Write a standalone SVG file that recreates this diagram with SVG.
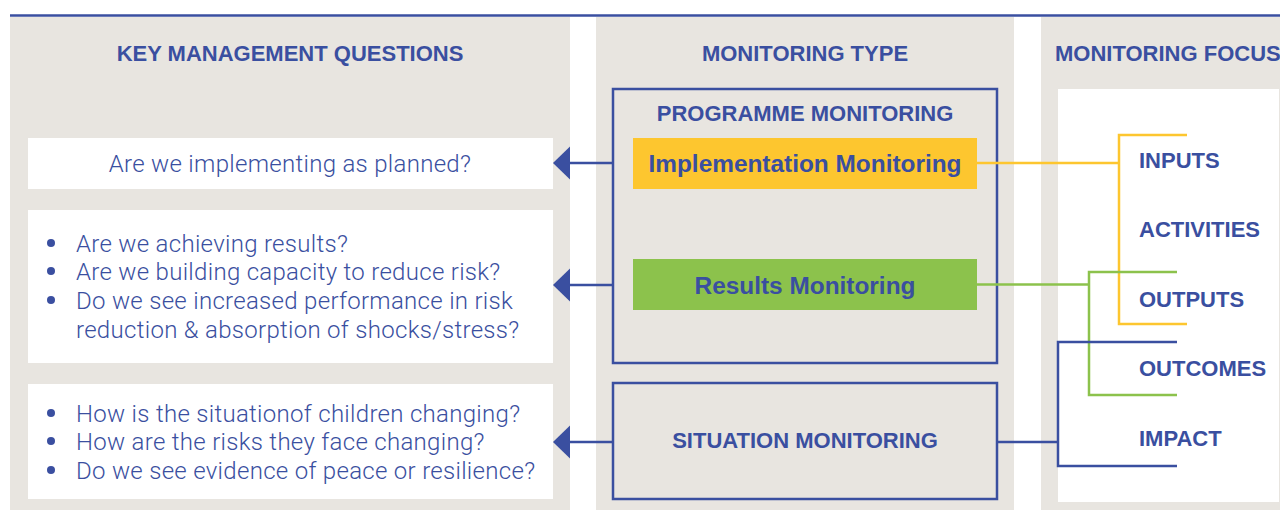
<svg xmlns="http://www.w3.org/2000/svg" width="1280" height="510" viewBox="0 0 1280 510">
  <defs>
    <style>
      .col { fill: #e8e5e0; }
      .wbox { fill: #ffffff; }
      .hdr { font-family: "Liberation Sans", Arial, sans-serif; font-weight: bold; font-size: 22px; fill: #3a4fa0; }
      .big { font-family: "Liberation Sans", Arial, sans-serif; font-weight: bold; font-size: 24.4px; fill: #3a4fa0; }
      .q { font-family: Roboto, "Liberation Sans", Arial, sans-serif; font-weight: 300; font-size: 24px; letter-spacing: 0.3px; fill: #3a4fa0; }
      .frame { fill: none; stroke: #3a4fa0; stroke-width: 2.5; }
      .blue { fill: none; stroke: #3a4fa0; stroke-width: 2.5; }
      .yel { fill: none; stroke: #fdc62f; stroke-width: 2.5; }
      .grn { fill: none; stroke: #8cc24c; stroke-width: 2.5; }
      .tip { fill: #3a4fa0; }
      .dot { fill: #3a4fa0; }
    </style>
  </defs>

  <rect x="0" y="0" width="1280" height="510" fill="#ffffff"/>

  <!-- background columns -->
  <g id="backgrounds">
    <rect class="col" x="10" y="17" width="560" height="493"/>
    <rect class="col" x="596" y="17" width="418" height="493"/>
    <rect class="col" x="1041" y="17" width="239" height="493"/>
    <rect class="wbox" x="1058" y="89" width="221" height="413"/>
    <line x1="10" y1="15.5" x2="1280" y2="15.5" stroke="#3a4fa0" stroke-width="2.5"/>
  </g>

  <!-- column headers -->
  <g id="headers">
    <text class="hdr" x="290" y="61" text-anchor="middle">KEY MANAGEMENT QUESTIONS</text>
    <text class="hdr" x="805" y="61" text-anchor="middle">MONITORING TYPE</text>
    <text class="hdr" x="1055" y="61">MONITORING FOCUS</text>
  </g>

  <!-- question boxes -->
  <g id="q-implementation">
    <rect class="wbox" x="28" y="138" width="525" height="51"/>
    <text class="q" x="290" y="172" text-anchor="middle">Are we implementing as planned?</text>
  </g>

  <g id="q-results">
    <rect class="wbox" x="28" y="210" width="525" height="153"/>
    <circle class="dot" cx="51" cy="243" r="4"/>
    <circle class="dot" cx="51" cy="271" r="4"/>
    <circle class="dot" cx="51" cy="300" r="4"/>
    <text class="q" x="76" y="252">Are we achieving results?</text>
    <text class="q" x="76" y="280">Are we building capacity to reduce risk?</text>
    <text class="q" x="76" y="309">Do we see increased performance in risk</text>
    <text class="q" x="76" y="338">reduction &amp; absorption of shocks/stress?</text>
  </g>

  <g id="q-situation">
    <rect class="wbox" x="28" y="384" width="525" height="115"/>
    <circle class="dot" cx="51" cy="413" r="4"/>
    <circle class="dot" cx="51" cy="441" r="4"/>
    <circle class="dot" cx="51" cy="470" r="4"/>
    <text class="q" x="76" y="422">How is the situationof children changing?</text>
    <text class="q" x="76" y="450">How are the risks they face changing?</text>
    <text class="q" x="76" y="479">Do we see evidence of peace or resilience?</text>
  </g>

  <!-- monitoring type nodes -->
  <g id="programme-monitoring">
    <rect class="frame" x="613" y="89" width="384" height="274"/>
    <text class="hdr" x="805" y="121" text-anchor="middle">PROGRAMME MONITORING</text>
  </g>

  <g id="implementation-monitoring">
    <rect x="633" y="138" width="344" height="51" fill="#fdc62f"/>
    <text class="big" x="805" y="172" text-anchor="middle">Implementation Monitoring</text>
  </g>

  <g id="results-monitoring">
    <rect x="633" y="259" width="344" height="51" fill="#8cc24c"/>
    <text class="big" x="805" y="294" text-anchor="middle">Results Monitoring</text>
  </g>

  <g id="situation-monitoring">
    <rect class="frame" x="613" y="383" width="384" height="116"/>
    <text class="hdr" x="805" y="448" text-anchor="middle">SITUATION MONITORING</text>
  </g>

  <!-- monitoring focus labels -->
  <g id="focus-inputs"><text class="hdr" x="1139" y="168">INPUTS</text></g>
  <g id="focus-activities"><text class="hdr" x="1139" y="237">ACTIVITIES</text></g>
  <g id="focus-outputs"><text class="hdr" x="1139" y="307">OUTPUTS</text></g>
  <g id="focus-outcomes"><text class="hdr" x="1139" y="376">OUTCOMES</text></g>
  <g id="focus-impact"><text class="hdr" x="1139" y="446">IMPACT</text></g>

  <!-- connectors -->
  <g id="connectors">
    <line class="blue" x1="568" y1="163" x2="613" y2="163"/>
    <polygon class="tip" points="553,163 570,146.5 570,179.5"/>
    <line class="blue" x1="568" y1="285" x2="613" y2="285"/>
    <polygon class="tip" points="553,285 570,268.5 570,301.5"/>
    <line class="blue" x1="568" y1="442" x2="613" y2="442"/>
    <polygon class="tip" points="553,442 570,425.5 570,458.5"/>

    <polyline class="yel" points="1187,135 1119,135 1119,324 1187,324"/>
    <line class="yel" x1="977" y1="163" x2="1119" y2="163"/>

    <polyline class="grn" points="1177,272 1089,272 1089,395 1177,395"/>
    <line class="grn" x1="977" y1="284.5" x2="1089" y2="284.5"/>

    <polyline class="blue" points="1177,342 1058,342 1058,466 1177,466"/>
    <line class="blue" x1="997" y1="442" x2="1058" y2="442"/>
  </g>
</svg>
